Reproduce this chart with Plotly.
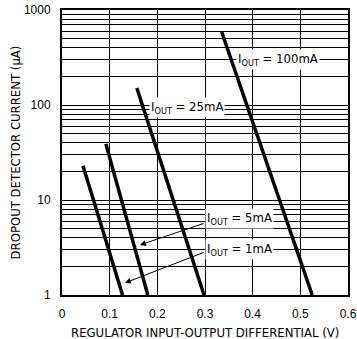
import math
import plotly.graph_objects as go

# Dropout detector current vs. regulator input-output differential
vdiff_1ma = [0.044, 0.127]
idet_1ma = [23, 1]
vdiff_5ma = [0.092, 0.180]
idet_5ma = [39, 1]
vdiff_25ma = [0.157, 0.298]
idet_25ma = [151, 1]
vdiff_100ma = [0.335, 0.525]
idet_100ma = [587, 1]

x_ticks = [0, 0.1, 0.2, 0.3, 0.4, 0.5, 0.6]
y_decades = [1, 10, 100, 1000]

# log grid: every integer multiple within each decade, labels only on decades
y_grid = [m * d for d in [1, 10, 100] for m in range(1, 10)] + [1000]
y_text = [str(v) if v in y_decades else "" for v in y_grid]

narrow = "Liberation Sans Narrow, DejaVu Sans Condensed, Arial Narrow, sans-serif"
regular = "Liberation Sans, Arial, sans-serif"

fig = go.Figure()
for xs, ys in [(vdiff_1ma, idet_1ma), (vdiff_5ma, idet_5ma),
               (vdiff_25ma, idet_25ma), (vdiff_100ma, idet_100ma)]:
    fig.add_trace(go.Scatter(x=xs, y=ys, mode="lines",
                             line=dict(color="black", width=3.5),
                             showlegend=False, hoverinfo="skip"))

# curve labels (y given in current units; log axis takes log10 positions)
labels = [
    (0.453, 298, "I<sub>OUT</sub> = 100mA"),
    (0.262, 93, "I<sub>OUT</sub> = 25mA"),
    (0.373, 6.45, "I<sub>OUT</sub> = 5mA"),
    (0.373, 2.98, "I<sub>OUT</sub> = 1mA"),
]
for x, y, t in labels:
    fig.add_annotation(x=x, y=math.log10(y), text=t, showarrow=False,
                       bgcolor="white",
                       font=dict(family=narrow, size=13, color="black"),
                       borderpad=1)

# leader arrows from the 5mA and 1mA labels to their curves
arrows = [
    ((0.300, 5.73), (0.1635, 3.36)),
    ((0.300, 2.84), (0.132, 1.34)),
]
for (tx, ty), (hx, hy) in arrows:
    fig.add_annotation(x=hx, y=math.log10(hy), ax=tx, ay=math.log10(ty),
                       xref="x", yref="y", axref="x", ayref="y", text="",
                       showarrow=True, arrowhead=2, arrowsize=1.2,
                       arrowwidth=1, arrowcolor="black")

# x-axis title placed below the tick labels
fig.add_annotation(x=0.5, y=-0.13, xref="paper", yref="paper",
                   text="REGULATOR INPUT-OUTPUT DIFFERENTIAL (V)",
                   showarrow=False, yanchor="middle",
                   font=dict(family=narrow, size=13, color="black"))

fig.update_xaxes(range=[0, 0.6], tickvals=x_ticks,
                 ticktext=["0", "0.1", "0.2", "0.3", "0.4", "0.5", "0.6"],
                 showgrid=True, gridcolor="black", gridwidth=1,
                 showline=True, linecolor="black", linewidth=2, mirror=True,
                 ticks="", zeroline=False, ticklabelstandoff=7,
                 automargin=False,
                 tickfont=dict(family=regular, size=12, color="black"))
fig.update_yaxes(type="log", range=[0, 3], tickvals=y_grid, ticktext=y_text,
                 showgrid=True, gridcolor="black", gridwidth=1,
                 showline=True, linecolor="black", linewidth=2, mirror=True,
                 ticks="", zeroline=False, ticklabelstandoff=7,
                 automargin=False,
                 tickfont=dict(family=regular, size=12, color="black"),
                 title=dict(text="DROPOUT DETECTOR CURRENT (µA)",
                            font=dict(family=narrow, size=13, color="black"),
                            standoff=0))
fig.update_layout(width=357, height=339,
                  margin=dict(l=62, r=9, t=10, b=44),
                  paper_bgcolor="white", plot_bgcolor="white")
fig.write_html("out.html")
